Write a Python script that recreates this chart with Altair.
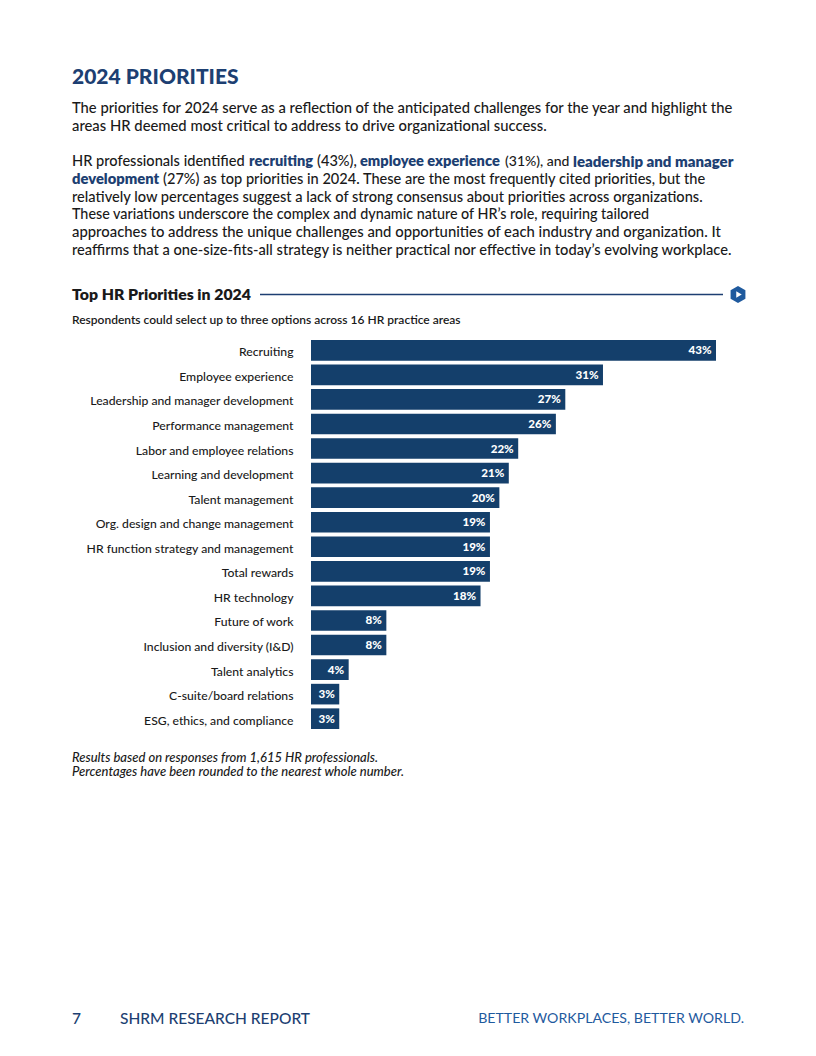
import altair as alt
import pandas as pd

categories = ["Recruiting", "Employee experience", "Leadership and manager development",
              "Performance management", "Labor and employee relations", "Learning and development",
              "Talent management", "Org. design and change management",
              "HR function strategy and management", "Total rewards", "HR technology",
              "Future of work", "Inclusion and diversity (I&D)", "Talent analytics",
              "C-suite/board relations", "ESG, ethics, and compliance"]
values = [43, 31, 27, 26, 22, 21, 20, 19, 19, 19, 18, 8, 8, 4, 3, 3]

NAVY = "#143f6b"
BLUE = "#1d3f72"
INK = "#1a1a1a"
FONT = "Lato"

df = pd.DataFrame({"cat": categories, "val": values, "lab": [f"{v}%" for v in values]})

ORIGIN_X, ORIGIN_Y = 303, 332


def text(s, px, py, size=14.75, weight=500, color=INK, style="normal", align="left", font=FONT):
    return alt.Chart(pd.DataFrame({"t": [s]})).mark_text(
        align=align, baseline="middle", font=font, fontSize=size, fontWeight=weight,
        color=color, fontStyle=style
    ).encode(text="t:N", x=alt.value(px - 8 - ORIGIN_X), y=alt.value(py + 1 - 8 - ORIGIN_Y))


y = alt.Y("cat:N", sort=categories, title=None,
          scale=alt.Scale(paddingInner=0.16, paddingOuter=0.0),
          axis=alt.Axis(ticks=False, domain=False, labelPadding=18, labelFontSize=12.2,
                        labelFont=FONT, labelFontWeight=500, labelColor=INK, labelLimit=300,
                        labelOffset=2, grid=False))
x = alt.X("val:Q", title=None, axis=None, scale=alt.Scale(domain=[0, 43], nice=False, zero=True))

bars = alt.Chart(df).mark_bar(color=NAVY).encode(x=x, y=y)
labels = alt.Chart(df).mark_text(align="right", baseline="middle", dx=-4.5, dy=1, font=FONT,
                                 fontSize=11.6, fontWeight=900, color="white").encode(
    x=x, y=alt.Y("cat:N", sort=categories), text="lab:N")

one = pd.DataFrame({"a": [0]})
rule = alt.Chart(one).mark_rule(color=BLUE, strokeWidth=1.3).encode(
    x=alt.value(260 - 8 - ORIGIN_X), x2=alt.value(723 - 8 - ORIGIN_X), y=alt.value(294.5 - 8 - ORIGIN_Y))
icon1 = alt.Chart(one).mark_point(filled=True, shape="M0,-1L0.87,-0.5L0.87,0.5L0,1L-0.87,0.5L-0.87,-0.5Z",
                                  size=290, color="#1f5a9e", opacity=1).encode(
    x=alt.value(738 - 8 - ORIGIN_X), y=alt.value(294.5 - 8 - ORIGIN_Y))
icon2 = alt.Chart(one).mark_point(filled=True, shape="triangle-right", size=40, color="white", opacity=1).encode(
    x=alt.value(739 - 8 - ORIGIN_X), y=alt.value(294.5 - 8 - ORIGIN_Y))

texts = [
    text("2024 PRIORITIES", 72, 77, size=21, weight=900, color=BLUE),
    text("The priorities for 2024 serve as a reflection of the anticipated challenges for the year and highlight the", 72, 108),
    text("areas HR deemed most critical to address to drive organizational success.", 72, 126, size=14.8),
    text("HR professionals identified", 72, 161, size=14.6),
    text("recruiting", 249, 161, size=14.6, weight=800, color=BLUE),
    text("(43%),", 317, 161, size=14.6),
    text("employee experience", 360, 161, size=14.6, weight=800, color=BLUE),
    text("(31%), and", 505, 161, size=14),
    text("leadership and manager", 573, 161, size=15, weight=800, color=BLUE),
    text("development", 72, 178.5, weight=800, color=BLUE),
    text("(27%) as top priorities in 2024. These are the most frequently cited priorities, but the", 163, 178.5, size=14.58),
    text("relatively low percentages suggest a lack of strong consensus about priorities across organizations.", 72, 196.5, size=14.64),
    text("These variations underscore the complex and dynamic nature of HR\u2019s role, requiring tailored", 72, 214, size=14.34),
    text("approaches to address the unique challenges and opportunities of each industry and organization. It", 72, 232, size=14.85),
    text("reaffirms that a one-size-fits-all strategy is neither practical nor effective in today\u2019s evolving workplace.", 72, 250, size=14.67),
    text("Top HR Priorities in 2024", 72, 293.5, size=15.8, weight=800, color=INK),
    text("Respondents could select up to three options across 16 HR practice areas", 72, 319, size=12, weight=600),
    text("Results based on responses from 1,615 HR professionals.", 72, 756.5, size=13, weight=500, style="italic"),
    text("Percentages have been rounded to the nearest whole number.", 72, 770.5, size=13, weight=500, style="italic"),
    text("7", 72, 1017.5, size=15.5, weight=500, color=BLUE),
    text("SHRM RESEARCH REPORT", 120, 1017.5, size=15.5, weight=500, color=BLUE),
    text("BETTER WORKPLACES, BETTER WORLD.", 744, 1017.5, size=14.15, weight=400, color="#1f5a9e", align="right"),
]

chart = alt.layer(bars, labels, rule, icon1, icon2, *texts).properties(
    width=405, height=389,
    padding={"left": ORIGIN_X, "top": ORIGIN_Y, "right": 85, "bottom": 310},
    autosize=alt.AutoSizeParams(type="none"),
).configure_view(stroke=None)

chart.save("out.html", embed_options={"renderer": "svg", "actions": False})
